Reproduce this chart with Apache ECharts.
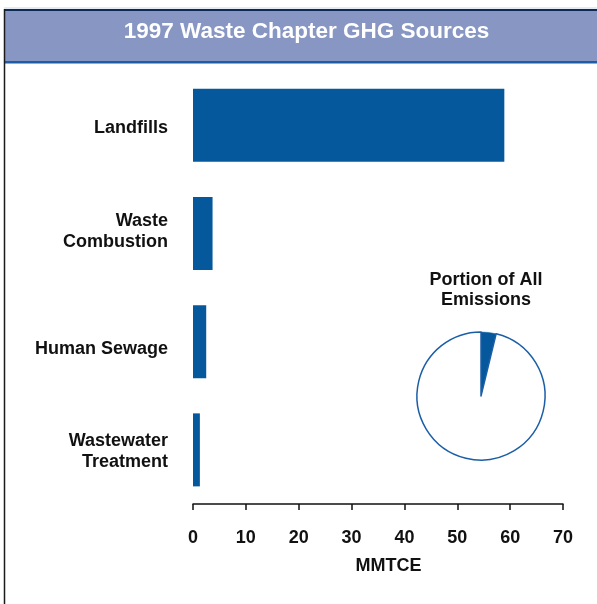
<!DOCTYPE html>
<html>
<head>
<meta charset="utf-8">
<title>1997 Waste Chapter GHG Sources</title>
<script src="https://cdn.jsdelivr.net/npm/echarts@6/dist/echarts.min.js"></script>
<style>
  html, body { margin: 0; padding: 0; background: #ffffff; }
  #chart { width: 597px; height: 604px; }
</style>
</head>
<body>
<div id="chart"></div>
<script>
// Waste-sector greenhouse gas sources, 1997 (MMTCE)
const categories = ['Landfills', 'Waste\nCombustion', 'Human Sewage', 'Wastewater\nTreatment'];
const emissions = [58.9, 3.7, 2.5, 1.3];

// Share of all national emissions (percent)
const shareNames = ['Waste', 'All other sources'];
const shareValues = [3.8, 96.2];

const axisMin = 0;
const axisMax = 70;
const axisStep = 10;

const titleText = '1997 Waste Chapter GHG Sources';
const pieTitle = 'Portion of All\nEmissions';
const axisTitle = 'MMTCE';

const BLUE = '#04589b';
const FONT = '"Liberation Sans", Arial, Helvetica, sans-serif';
const LINE_H = 21;

// small vertical nudges for the category captions (px, positive = down)
const labelNudge = [3, -2, 7, 2];

const baseLabel = { color: '#111', fontSize: 18, fontWeight: 'bold', fontFamily: FONT, lineHeight: LINE_H };
const richStyles = { t: Object.assign({}, baseLabel) };
labelNudge.forEach((d, i) => {
  // an empty strut line above (or below) the caption shifts the centred block by d
  richStyles['s' + i] = { fontSize: 1, lineHeight: Math.max(1, 2 * Math.abs(d)), color: 'transparent' };
});

function captionFormatter(value, index) {
  const d = labelNudge[index] || 0;
  const body = String(value).split('\n').map(line => '{t|' + line + '}');
  if (d > 0) body.unshift('{s' + index + '|\u200b}');
  if (d < 0) body.push('{s' + index + '|\u200b}');
  return body.join('\n');
}

const chart = echarts.init(document.getElementById('chart'), null, { renderer: 'canvas' });

chart.setOption({
  animation: false,
  backgroundColor: '#ffffff',
  grid: { left: 193, right: 34, top: 71, bottom: 100, containLabel: false },
  xAxis: {
    type: 'value',
    min: axisMin,
    max: axisMax,
    interval: axisStep,
    splitLine: { show: false },
    axisLine: { show: true, lineStyle: { color: '#111', width: 1.5 } },
    axisTick: { show: true, length: 6, lineStyle: { color: '#111', width: 1.5 } },
    axisLabel: { margin: 25, color: '#111', fontSize: 18, fontWeight: 'bold', fontFamily: FONT }
  },
  yAxis: {
    type: 'category',
    data: categories,
    inverse: true,
    axisLine: { show: false },
    axisTick: { show: false },
    splitLine: { show: false },
    axisLabel: Object.assign({ margin: 25, align: 'right', formatter: captionFormatter, rich: richStyles }, baseLabel)
  },
  series: [
    {
      type: 'bar',
      data: emissions,
      barWidth: 73,
      itemStyle: { color: BLUE },
      emphasis: { disabled: true },
      silent: true
    },
    {
      type: 'pie',
      center: [481, 396],
      radius: 64,
      startAngle: 90,
      clockwise: true,
      label: { show: false },
      labelLine: { show: false },
      emphasis: { disabled: true },
      silent: true,
      data: shareNames.map((name, i) => ({
        name: name,
        value: shareValues[i],
        itemStyle: i === 0
          ? { color: BLUE, borderColor: BLUE, borderWidth: 0.5 }
          : { color: '#ffffff', borderColor: '#1b5ea6', borderWidth: 1.5 }
      }))
    }
  ],
  graphic: [
    // header band
    { type: 'rect', z: 10, shape: { x: 4, y: 10, width: 600, height: 52 }, style: { fill: '#8796c3' } },
    { type: 'line', z: 11, shape: { x1: 4, y1: 8, x2: 600, y2: 8 }, style: { stroke: '#c9d6e8', lineWidth: 1 } },
    { type: 'line', z: 11, shape: { x1: 4, y1: 10, x2: 600, y2: 10 }, style: { stroke: '#0d2b52', lineWidth: 2 } },
    { type: 'line', z: 11, shape: { x1: 4, y1: 62.2, x2: 600, y2: 62.2 }, style: { stroke: '#1b5ea6', lineWidth: 2.5 } },
    // left frame line
    { type: 'line', z: 11, shape: { x1: 4.5, y1: 9, x2: 4.5, y2: 604 }, style: { stroke: '#1a1a1a', lineWidth: 1.5 } },
    {
      type: 'text', z: 12, x: 306.5, y: 31.5,
      style: {
        text: titleText, fill: '#ffffff', font: 'bold 22.5px ' + FONT,
        textAlign: 'center', textVerticalAlign: 'middle'
      }
    },
    {
      type: 'text', z: 12, x: 486, y: 290.5,
      style: {
        text: pieTitle, fill: '#111', font: 'bold 18px ' + FONT, lineHeight: 20,
        textAlign: 'center', textVerticalAlign: 'middle'
      }
    },
    {
      type: 'text', z: 12, x: 388.5, y: 566,
      style: {
        text: axisTitle, fill: '#111', font: 'bold 18px ' + FONT,
        textAlign: 'center', textVerticalAlign: 'middle'
      }
    }
  ]
});
</script>
</body>
</html>
